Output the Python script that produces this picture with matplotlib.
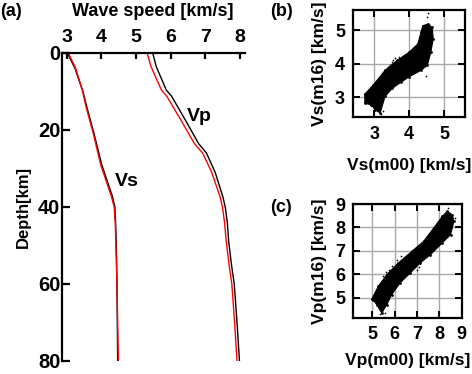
import matplotlib
matplotlib.use("Agg")
import matplotlib.pyplot as plt
from matplotlib.patches import Polygon

plt.rcParams['font.family'] = ['Liberation Sans', 'DejaVu Sans']
plt.rcParams['font.weight'] = 'bold'

# (a) velocity profiles
vs_depth = [0, 4, 10, 14, 21, 29, 37, 40, 44, 50, 60, 70, 80]
vs_m00 = [3.02, 3.24, 3.47, 3.58, 3.79, 4.01, 4.31, 4.39, 4.41, 4.43, 4.45, 4.46, 4.47]
vs_m16 = [3.05, 3.26, 3.46, 3.56, 3.77, 3.98, 4.28, 4.37, 4.40, 4.42, 4.45, 4.47, 4.49]

vp_depth = [0, 3.5, 9.6, 11.3, 17.4, 23.5, 26, 31, 37.3, 40, 44, 49, 55, 60, 70, 80]
vp_m00 = [5.48, 5.58, 5.87, 6.03, 6.42, 6.80, 7.03, 7.28, 7.50, 7.57, 7.63, 7.67, 7.75, 7.83, 7.91, 7.98]
vp_m16 = [5.32, 5.43, 5.73, 5.89, 6.29, 6.68, 6.92, 7.18, 7.42, 7.49, 7.55, 7.60, 7.68, 7.76, 7.84, 7.91]

# (b) Vs cloud outline (m00, m16) and stray points
vs_cloud_x = [2.73, 2.97, 3.31, 3.66, 4.00, 4.25, 4.34, 4.39, 4.54, 4.66, 4.69, 4.62, 4.52,
              4.34, 4.00, 3.76, 3.51, 3.31, 3.17, 3.02, 2.92, 2.73]
vs_cloud_y = [3.09, 3.36, 3.80, 4.10, 4.34, 4.59, 4.93, 5.13, 5.18, 5.08, 4.74, 4.34, 3.95,
              3.80, 3.61, 3.44, 3.26, 3.02, 2.53, 2.63, 2.77, 2.82]
vs_stray_x = [3.45, 3.50, 3.55, 3.60, 3.65, 3.70, 3.40, 4.50, 4.55, 4.47, 3.20, 3.25]
vs_stray_y = [3.95, 4.05, 4.12, 4.18, 4.10, 4.20, 3.90, 5.40, 5.50, 3.62, 2.50, 2.58]

# (c) Vp cloud outline (m00, m16) and stray points
vp_cloud_x = [4.97, 5.27, 5.65, 6.17, 6.77, 7.30, 7.75, 8.13, 8.35, 8.58, 8.65, 8.50, 8.13,
              7.60, 7.15, 6.70, 6.25, 5.87, 5.65, 5.42, 5.20, 5.05]
vp_cloud_y = [4.93, 5.49, 5.99, 6.49, 6.98, 7.41, 7.98, 8.47, 8.69, 8.54, 8.26, 7.69, 7.34,
              6.84, 6.49, 6.06, 5.64, 5.14, 4.71, 4.36, 4.71, 4.89]
vp_stray_x = [5.50, 5.60, 5.75, 5.90, 6.10, 6.30, 7.00, 7.10, 5.35, 5.45, 5.55, 8.40, 8.70]
vp_stray_y = [5.95, 6.10, 6.20, 6.35, 6.60, 6.80, 6.20, 6.30, 4.30, 4.45, 4.35, 8.85, 8.40]

fig = plt.figure(figsize=(4.72, 3.74), dpi=100)

# ---- panel (a)
ax = fig.add_axes([0.1324, 0.0348, 0.3867, 0.8235])
ax.plot(vs_m00, vs_depth, color='black', lw=1.0)
ax.plot(vs_m16, vs_depth, color='red', lw=1.0)
ax.plot(vp_m00, vp_depth, color='black', lw=1.0)
ax.plot(vp_m16, vp_depth, color='red', lw=1.0)
ax.set_xlim(2.88, 8.14)
ax.set_ylim(80, 0)
ax.set_xticks([3, 4, 5, 6, 7, 8])
ax.set_yticks([0, 20, 40, 60, 80])
ax.xaxis.tick_top()
for s in ['right', 'bottom']:
    ax.spines[s].set_visible(False)
for s in ['left', 'top']:
    ax.spines[s].set_linewidth(1.6)
ax.tick_params(axis='x', direction='in', length=4, width=1.6, labelsize=14, pad=5)
ax.tick_params(axis='y', direction='in', length=6, width=1.6, labelsize=14.5, pad=1.5)
for lab in ax.get_xticklabels() + ax.get_yticklabels():
    lab.set_fontweight('bold')
ax.text(4.72, 33.4, 'Vs', fontsize=14, fontweight='bold', ha='center', va='center')
ax.text(6.83, 16.5, 'Vp', fontsize=14, fontweight='bold', ha='center', va='center')
ax.set_ylabel('Depth[km]', fontsize=12, fontweight='bold', labelpad=5)
fig.text(153 / 472, 1 - 12 / 374, 'Wave speed [km/s]', fontsize=13, fontweight='bold',
         ha='center', va='center')
fig.text(0.0, 1 - 12 / 374, '(a)', fontsize=13, fontweight='bold', ha='left', va='center')


def scatter_panel(rect, cx, cy, sx, sy, lims, ticks, xlabel, ylabel, tag, tag_y, xpad):
    a = fig.add_axes(rect)
    a.add_patch(Polygon(list(zip(cx, cy)), closed=True, facecolor='black',
                        edgecolor='black', lw=0.8, zorder=3))
    a.scatter(cx, cy, s=4, color='black', zorder=3, linewidths=0)
    a.scatter(sx, sy, s=1.5, color='black', zorder=3, linewidths=0)
    a.set_xlim(*lims)
    a.set_ylim(*lims)
    a.set_xticks(ticks)
    a.set_yticks(ticks)
    a.grid(True, color='#a8a8a8', lw=1.0, zorder=0)
    a.set_axisbelow(True)
    for s in a.spines.values():
        s.set_linewidth(1.6)
    a.tick_params(direction='in', length=5, width=1.4, labelsize=13, pad=6,
                  top=True, right=True)
    for lab in a.get_xticklabels() + a.get_yticklabels():
        lab.set_fontweight('bold')
    a.set_xlabel(xlabel, fontsize=12.5, fontweight='bold', labelpad=xpad)
    a.set_ylabel(ylabel, fontsize=12.5, fontweight='bold', labelpad=6)
    fig.text(270 / 472, 1 - tag_y / 374, tag, fontsize=13, fontweight='bold',
             ha='left', va='center')
    return a


scatter_panel([0.7485, 0.6864, 0.2367, 0.2869], vs_cloud_x, vs_cloud_y, vs_stray_x, vs_stray_y,
              (2.4, 5.6), [3, 4, 5], 'Vs(m00) [km/s]', 'Vs(m16) [km/s]', '(b)', 12, 11)
scatter_panel([0.7485, 0.1505, 0.2297, 0.304], vp_cloud_x, vp_cloud_y, vp_stray_x, vp_stray_y,
              (4.15, 9.0), [5, 6, 7, 8, 9], 'Vp(m00) [km/s]', 'Vp(m16) [km/s]', '(c)', 207, 7)

fig.savefig('out.png', dpi=100)
